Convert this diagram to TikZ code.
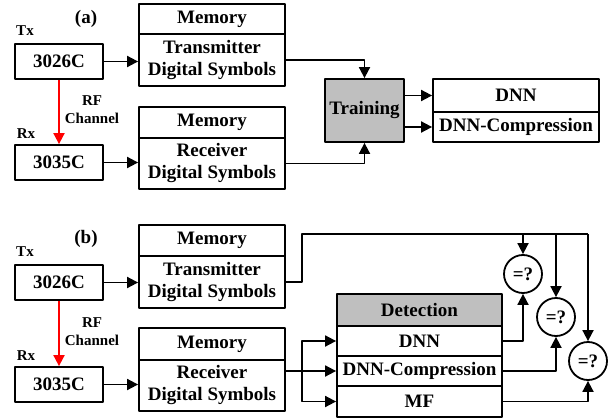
\documentclass[tikz,border=0pt]{standalone}
\usepackage{fontspec}
\setmainfont{Liberation Serif}
\usetikzlibrary{arrows.meta}

\begin{document}
\begin{tikzpicture}[x=1pt,y=-1pt, line width=1.8pt, line join=round,
		font=\fontsize{19}{22}\selectfont\bfseries]
	\tikzset{box/.style={draw, inner sep=0pt, align=center, minimum width=146pt, minimum height=30pt},
		device/.style={draw, inner sep=0pt, minimum width=88pt, minimum height=35pt},
		small/.style={font=\fontsize{15}{18}\selectfont\bfseries, align=center},
		check/.style={draw, circle, inner sep=0pt, minimum size=38pt},
		shaded/.style={fill=black!25},
		arr/.style={-{Triangle[length=11pt,width=11pt]}}}
	\useasboundingbox (0,0) rectangle (613,420);
	% (a) training
	\node (tagA) at (86,19) {(a)};
	\node[small] (txA) at (25,31) {Tx};
	\node[device] (devA1) at (59,61.5) {3026C};
	\node[box] (memA1) at (212,19) {Memory};
	\node[box, minimum height=52pt] (symA1) at (212,60) {Transmitter\\Digital Symbols};
	\node[small] (rfA) at (92,110) {RF\\Channel};
	\node[small] (rxA) at (26,134) {Rx};
	\node[device] (devA2) at (59,162.5) {3035C};
	\node[box, minimum height=31pt] (memA2) at (212,122.5) {Memory};
	\node[box, minimum height=51pt] (symA2) at (212,163.5) {Receiver\\Digital Symbols};
	\node[draw, shaded, inner sep=0pt, minimum width=79pt, minimum height=63pt] (train) at (364.5,110.5) {Training};
	\node[box, minimum width=166pt, minimum height=33pt] (dnnA) at (516,95.5) {DNN};
	\node[box, minimum width=166pt] (cmpA) at (516,127) {DNN-Compression};
	\draw[arr] (devA1.east) -- (devA1.east -| symA1.west);
	\draw[arr] (devA2.east) -- (devA2.east -| symA2.west);
	\draw[arr, red] (devA1) -- (devA2);
	\draw[arr] (symA1.east) -| (train.north);
	\draw[arr] (symA2.east) -| (train.south);
	\draw[arr] (train.east |- dnnA) -- (dnnA.west);
	\draw[arr] (train.east |- cmpA) -- (cmpA.west);
	% (b) detection
	\node (tagB) at (86,239) {(b)};
	\node[small] (txB) at (25,252) {Tx};
	\node[device] (devB1) at (59,282.5) {3026C};
	\node[box, minimum height=31pt] (memB1) at (212,240.5) {Memory};
	\node[box, minimum height=52pt] (symB1) at (212,282) {Transmitter\\Digital Symbols};
	\node[small] (rfB) at (92,332) {RF\\Channel};
	\node[small] (rxB) at (26,356) {Rx};
	\node[device] (devB2) at (59,384.5) {3035C};
	\node[box, minimum height=32pt] (memB2) at (212,344) {Memory};
	\node[box, minimum height=51pt] (symB2) at (212,385.5) {Receiver\\Digital Symbols};
	\node[box, shaded, minimum width=165pt, minimum height=32pt] (detect) at (419.5,310) {Detection};
	\node[box, minimum width=165pt] (dnnB) at (419.5,341) {DNN};
	\node[box, minimum width=165pt] (cmpB) at (419.5,371) {DNN-Compression};
	\node[box, minimum width=165pt, minimum height=31pt] (mfB) at (419.5,401.5) {MF};
	\node[check] (eq1) at (523,274) {=?};
	\node[check] (eq2) at (556,317) {=?};
	\node[check] (eq3) at (588,361) {=?};
	\draw[arr] (devB1.east) -- (devB1.east -| symB1.west);
	\draw[arr] (devB2.east) -- (devB2.east -| symB2.west);
	\draw[arr, red] (devB1) -- (devB2);
	\coordinate (busL) at (302,234);
	\coordinate (busR) at (eq3 |- busL);
	\coordinate (split) at (302,371);
	\draw (symB1.east) -| (busL) -- (busR);
	\draw[arr] (busR) -- (eq3);
	\draw[arr] (eq1 |- busL) -- (eq1);
	\draw[arr] (eq2 |- busL) -- (eq2);
	\draw[arr] (symB2.east |- cmpB) -- (cmpB.west);
	\draw[arr] (split) |- (dnnB.west);
	\draw[arr] (split) |- (mfB.west);
	\draw[arr] (dnnB.east) -| (eq1);
	\draw[arr] (cmpB.east) -| (eq2);
	\draw[arr] (mfB.east) -| (eq3);
\end{tikzpicture}
\end{document}
